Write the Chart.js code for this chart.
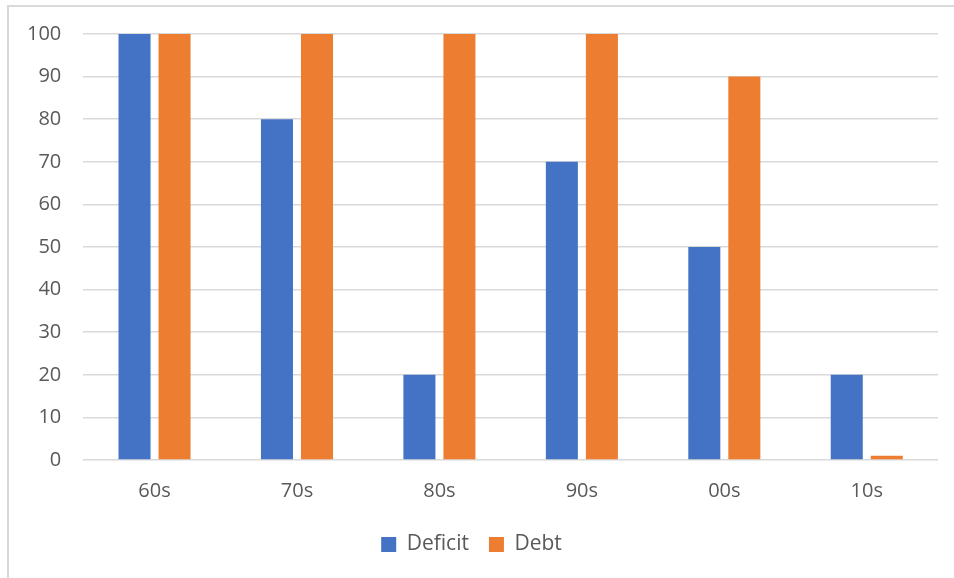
<!DOCTYPE html>
<html>
<head>
<meta charset="utf-8">
<script src="https://cdn.jsdelivr.net/npm/chart.js@4/dist/chart.umd.min.js"></script>
<style>
  html, body { margin: 0; padding: 0; background: #fff; }
  #frame { position: absolute; left: 7px; top: 5px; width: 960px; height: 600px;
           border-left: 2px solid #d9d9d9; border-top: 2px solid #d9d9d9; }
  #wrap { position: absolute; left: 0; top: 0; width: 954px; height: 578px; }
</style>
</head>
<body>
<div id="frame"></div>
<div id="wrap"><canvas id="chart"></canvas></div>
<script>
// decades and the two series
const decades  = ['60s', '70s', '80s', '90s', '00s', '10s'];
const deficit  = [100, 80, 20, 70, 50, 20];
const debt     = [100, 100, 100, 100, 90, 1];
const yTicks   = [0, 10, 20, 30, 40, 50, 60, 70, 80, 90, 100];

const txt  = '#595959';
const grid = '#d9d9d9';
const fam  = "'Open Sans', 'Liberation Sans', sans-serif";
const font = { family: fam, size: 20 };

new Chart(document.getElementById('chart'), {
    type: 'bar',
    data: {
        labels: decades,
        datasets: [
            { label: 'Deficit', data: deficit, backgroundColor: '#4472c4', borderWidth: 0 },
            { label: 'Debt',    data: debt,    backgroundColor: '#ed7d31', borderWidth: 0 }
        ]
    },
    options: {
        responsive: true, maintainAspectRatio: false, animation: false,
        categoryPercentage: 0.562, barPercentage: 0.8,
        layout: { padding: { left: 5, right: 16, top: 22, bottom: 13 } },
        plugins: {
            tooltip: { enabled: false },
            legend: {
                position: 'bottom',
                labels: { color: txt, font: { family: fam, size: 21 }, boxWidth: 15, boxHeight: 15, padding: 20 }
            }
        },
        scales: {
            x: {
                grid: { display: false },
                border: { display: false },
                ticks: { color: txt, font: font, padding: 11 }
            },
            y: {
                min: 0, max: 100,
                afterBuildTicks: ax => { ax.ticks = yTicks.map(v => ({ value: v })); },
                grid: { color: grid, lineWidth: 1.5, drawTicks: false },
                border: { display: false },
                ticks: { color: txt, font: font, padding: 22 }
            }
        }
    }
});
</script>
</body>
</html>
